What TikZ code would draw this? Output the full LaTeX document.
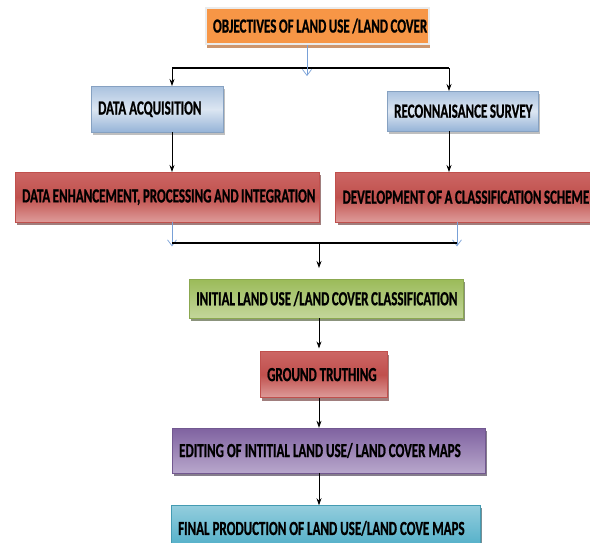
\documentclass[tikz,border=0pt]{standalone}
\usepackage{fontspec}
\newfontfamily\boxfont[FakeStretch=0.65, FakeBold=0.8]{Carlito}
\newcommand\stagefont{\boxfont\bfseries\fontsize{20}{20}\selectfont
  \spaceskip=3pt plus 1pt minus 0.5pt\relax\hyphenpenalty=10000\relax}
\usetikzlibrary{positioning}
\usetikzlibrary{arrows.meta}
\usetikzlibrary{shadows}

\definecolor{objorange}{HTML}{F79646}
\definecolor{objshadow}{RGB}{205,150,110}
\definecolor{blueedge}{HTML}{95B3D7}
\definecolor{bluemid}{HTML}{DCE6F2}
\definecolor{redtop}{HTML}{CC6664}
\definecolor{redmid}{HTML}{C0504D}
\definecolor{redlow}{HTML}{DE9C9A}
\definecolor{greentop}{HTML}{9BBB59}
\definecolor{greenlow}{HTML}{C3D69B}
\definecolor{purpletop}{HTML}{7F62A0}
\definecolor{purplelow}{HTML}{B8A7CC}
\definecolor{cyantop}{HTML}{93CDDD}
\definecolor{cyanlow}{HTML}{4BACC6}
\definecolor{flowblue}{RGB}{120,160,215}

\tikzset{
  stage/.style={inner xsep=7pt, inner ysep=0pt, align=flush left, font=\stagefont},
  titlebox/.style={stage, fill=objorange, draw=black!8, line width=2pt,
    drop shadow={shadow xshift=1pt, shadow yshift=-4pt, opacity=1, fill=objshadow}},
  bluebox/.style={stage, top color=blueedge!80, bottom color=blueedge, middle color=bluemid,
    draw=blueedge!90!black, line width=0.4pt,
    drop shadow={shadow xshift=2pt, shadow yshift=-3pt, opacity=0.5}},
  redbox/.style={stage, top color=redtop, bottom color=redlow, middle color=redmid,
    draw=redmid, line width=0.4pt,
    drop shadow={shadow xshift=2pt, shadow yshift=-3pt, opacity=0.6, fill=redmid!50!black}},
  greenbox/.style={stage, top color=greentop, bottom color=greenlow,
    draw=greentop!90!black, line width=0.4pt,
    drop shadow={shadow xshift=2pt, shadow yshift=-3pt, opacity=0.6, fill=greentop!40!black}},
  purplebox/.style={stage, top color=purpletop, bottom color=purplelow,
    draw=purpletop!90!black, line width=0.4pt,
    drop shadow={shadow xshift=2pt, shadow yshift=-3pt, opacity=0.6, fill=purpletop!40!black}},
  cyanbox/.style={stage, top color=cyantop, bottom color=cyanlow,
    draw=cyanlow!90!black, line width=0.4pt,
    drop shadow={shadow xshift=2pt, shadow yshift=-3pt, opacity=0.6, fill=cyanlow!40!black}},
  flow/.style={line width=1.3pt, black},
  arrow/.style={line width=0.8pt, -{Stealth[length=7pt, width=5pt]}},
  bluearrow/.style={line width=0.7pt, flowblue, -{Straight Barb[length=6pt, width=9pt]}}
}

\begin{document}
\begin{tikzpicture}[x=1pt, y=-1pt]
    \useasboundingbox (0,0) rectangle (590,542);

    \node[titlebox, text width=209pt, minimum height=36pt, anchor=north west] (obj) at (205,7) {OBJECTIVES~OF~LAND~USE~/LAND~COVER};

    \node[bluebox, text width=118pt, minimum height=46pt, anchor=north west] (da) at (91,86) {DATA~ACQUISITION};
    \node[bluebox, text width=137pt, minimum height=40pt, anchor=north west] (rs) at (387,91) {RECONNAISANCE~SURVEY};

    \node[redbox, text width=290pt, minimum height=50pt, anchor=north west] (red1) at (15,172) {DATA~ENHANCEMENT,~PROCESSING~AND~INTEGRATION};
    \node[redbox, text width=243pt, minimum height=50pt, right=16pt of red1] (red2) {DEVELOPMENT~OF~A~CLASSIFICATION~SCHEME};

    \node[greenbox, text width=260pt, minimum height=39pt, anchor=north west] (green) at (189,279) {INITIAL~LAND~USE~/LAND~COVER~CLASSIFICATION};
    \node[redbox, text width=113pt, minimum height=46pt, below=33pt of green, xshift=-2.5pt] (gt) {GROUND~TRUTHING};
    \node[purplebox, text width=299pt, minimum height=45pt, below=30pt of gt, xshift=5pt] (edit) {EDITING~OF~INTITIAL~LAND~USE/~LAND~COVER~MAPS};
    \node[cyanbox, text width=295pt, minimum height=46pt, below=32pt of edit, xshift=-3pt] (final) {FINAL~PRODUCTION~OF~LAND~USE/LAND~COVE~MAPS};

    % split below the objectives
    \coordinate (forkl) at (172,68);
    \coordinate (forkr) at (449,68);
    \coordinate (objend) at (307,76);
    \draw[flow] (forkl) -- (forkr);
    \draw[bluearrow] (obj.south -| objend) -- (objend);
    \draw[arrow] (forkl) -- (forkl |- da.north);
    \draw[arrow] (forkr) -- (forkr |- rs.north);
    \draw[arrow] (da.south -| forkl) -- (red1.north -| forkl);
    \draw[arrow] (rs.south -| forkr) -- (red2.north -| forkr);

    % merge into the classification
    \coordinate (joinl) at (172,243);
    \coordinate (joinr) at (457,243);
    \coordinate (merge) at (319,243);
    \draw[bluearrow] (red1.south -| joinl) -- ++(0,24);
    \draw[bluearrow] (red2.south -| joinr) -- ++(0,24);
    \draw[flow] (joinl) -- (joinr);
    \draw[arrow] (merge) -- ++(0,25);

    \draw[arrow] (green.south -| merge) -- ([yshift=3pt]gt.north -| merge);
    \draw[arrow] (gt.south -| merge) -- (edit.north -| merge);
    \draw[arrow] (edit.south -| merge) -- (final.north -| merge);
\end{tikzpicture}
\end{document}
